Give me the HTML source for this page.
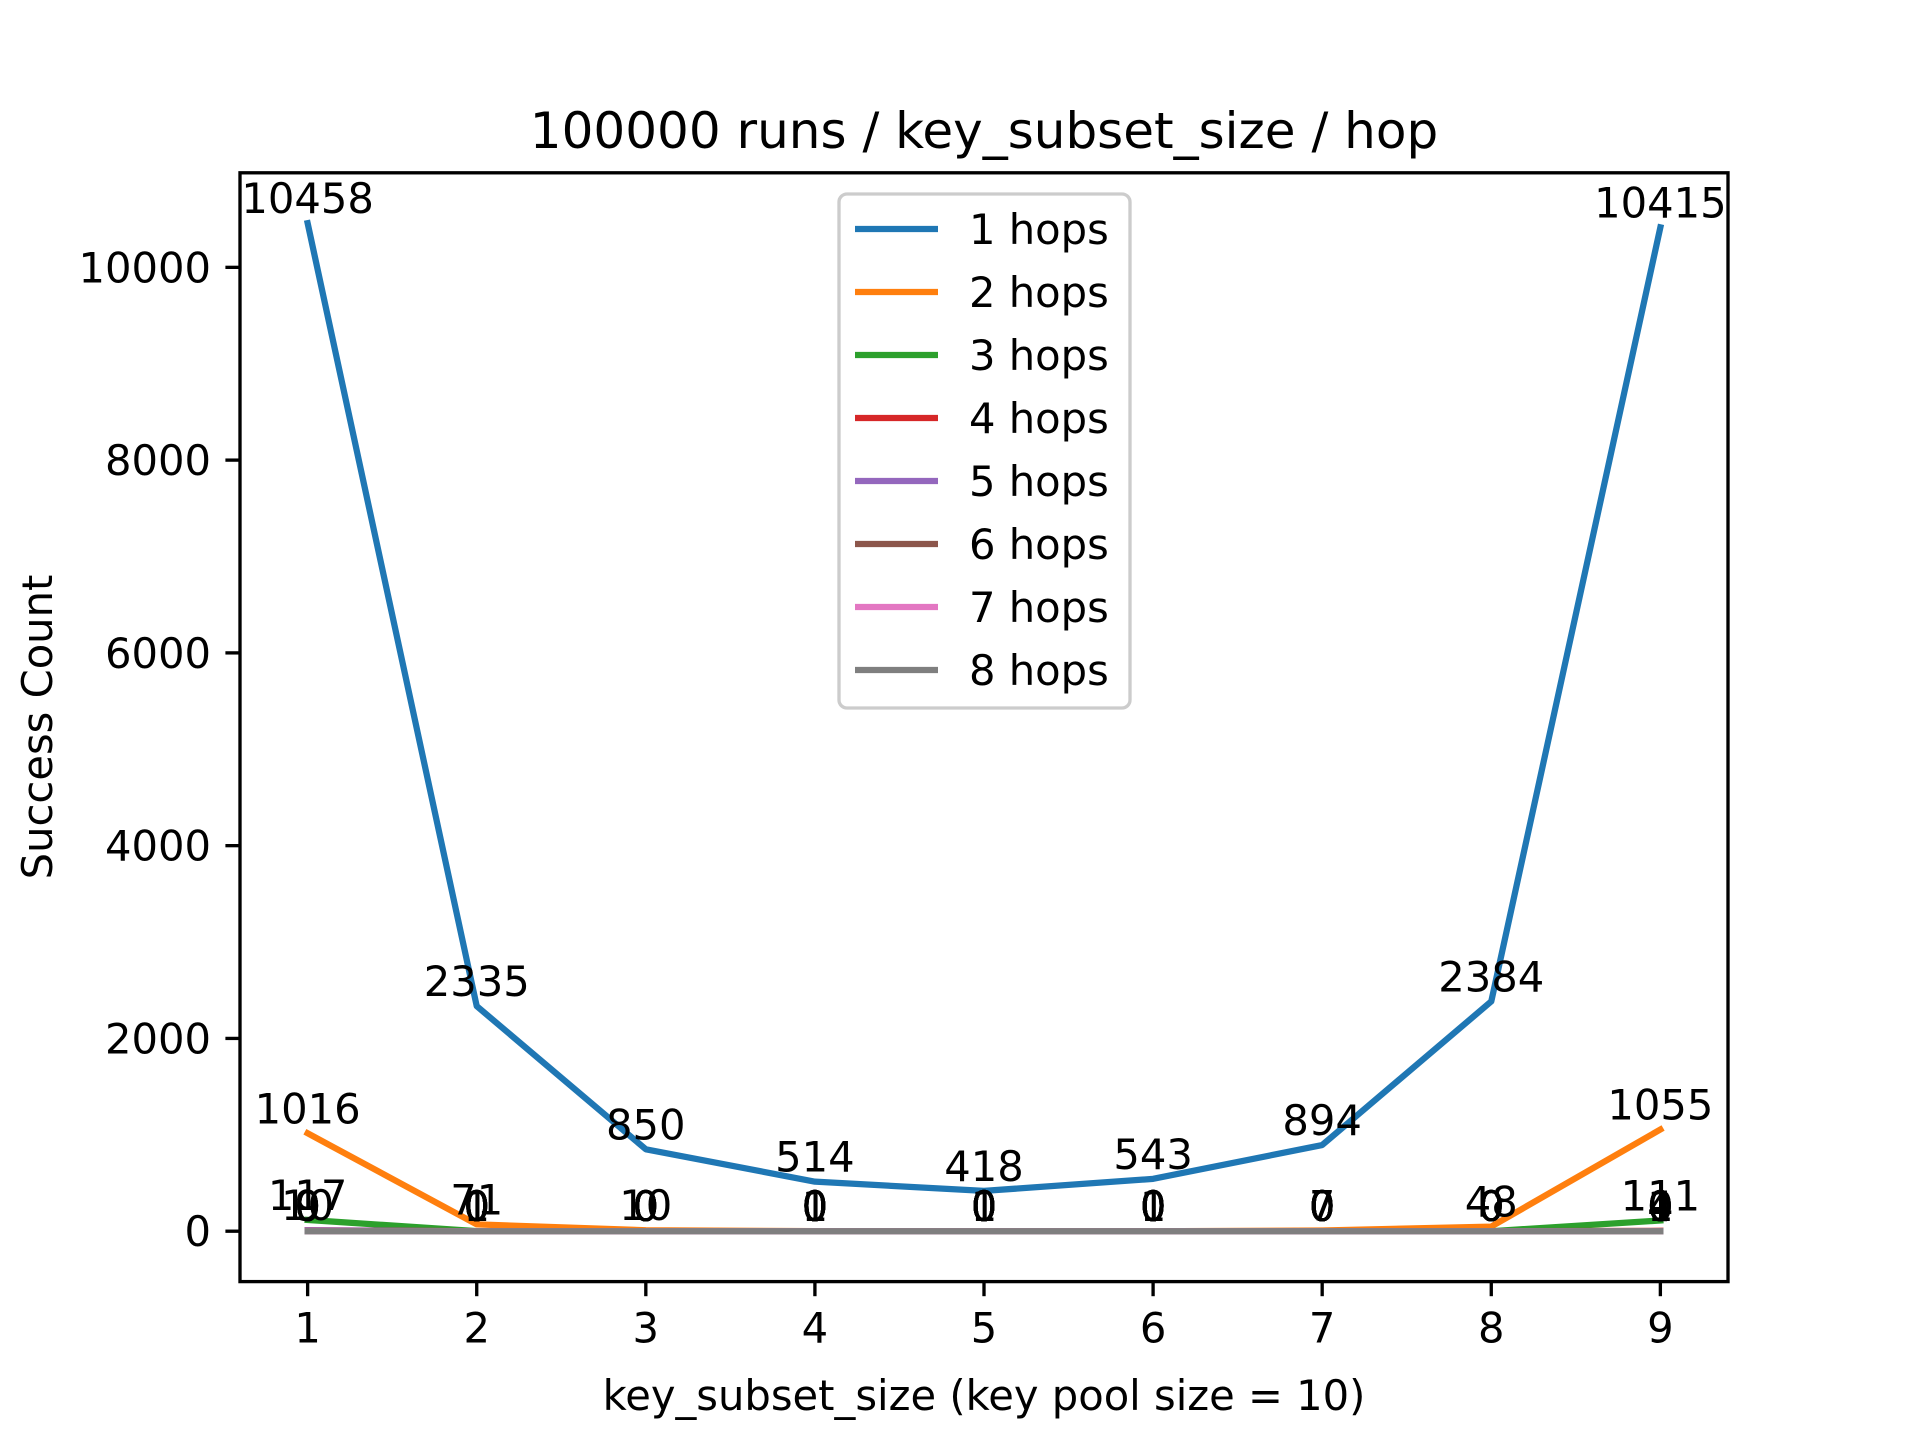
<!DOCTYPE html>
<html><head><meta charset="utf-8"><style>
html,body{margin:0;padding:0;background:#fff}
svg{display:block;font-family:"DejaVu Sans","Liberation Sans",sans-serif}
</style></head><body>
<svg id="chart" width="1920" height="1440" viewBox="0 0 1920 1440">
<rect width="1920" height="1440" fill="#fff"/>
<text x="984" y="148" font-size="50" text-anchor="middle">100000 runs / key_subset_size / hop</text>
<text x="984" y="1410" font-size="41.67" text-anchor="middle">key_subset_size (key pool size = 10)</text>
<text transform="translate(52,727) rotate(-90)" font-size="41.67" text-anchor="middle">Success Count</text>
<g id="plot"></g>
</svg>
<script>
const categories = [1,2,3,4,5,6,7,8,9];
const seriesNames = ["1 hops","2 hops","3 hops","4 hops","5 hops","6 hops","7 hops","8 hops"];
const hops1 = [10458,2335,850,514,418,543,894,2384,10415];
const hops2 = [1016,71,10,1,0,0,7,48,1055];
const hops3 = [117,1,0,0,1,1,0,0,111];
const hops4 = [10,0,0,0,0,0,0,0,4];
const hops5 = [9,0,0,0,0,0,0,0,1];
const hops6 = [0,0,0,0,0,0,0,0,0];
const hops7 = [0,0,0,0,0,0,0,0,0];
const hops8 = [0,0,0,0,0,0,0,0,0];
const yTicks = [0,2000,4000,6000,8000,10000];
const xTicks = [1,2,3,4,5,6,7,8,9];

const series=[hops1,hops2,hops3,hops4,hops5,hops6,hops7,hops8];
const colors=["#1f77b4","#ff7f0e","#2ca02c","#d62728","#9467bd","#8c564b","#e377c2","#7f7f7f"];
const L=240,R=1728,T=172.8,B=1281.6;
const all=series.flat();
const dmin=Math.min(...all),dmax=Math.max(...all);
const ymin=dmin-(dmax-dmin)*0.05,ymax=dmax+(dmax-dmin)*0.05;
const xmin=categories[0]-(categories[categories.length-1]-categories[0])*0.05;
const xmax=categories[categories.length-1]+(categories[categories.length-1]-categories[0])*0.05;
const xs=v=>L+(v-xmin)/(xmax-xmin)*(R-L);
const ys=v=>B-(v-ymin)/(ymax-ymin)*(B-T);
const NS="http://www.w3.org/2000/svg";
const g=document.getElementById('plot');
function mk(tag,attrs,parent){const e=document.createElementNS(NS,tag);for(const k in attrs)e.setAttribute(k,attrs[k]);(parent||g).appendChild(e);return e;}

series.forEach((s,i)=>{
  const p=mk('polyline',{points:s.map((v,j)=>xs(categories[j])+','+ys(v)).join(' '),fill:'none',stroke:colors[i],'stroke-width':6.25,'stroke-linejoin':'round','stroke-linecap':'square'});
  
  
});
series.forEach((s,i)=>{
  s.forEach((v,j)=>{
    const t=mk('text',{x:xs(categories[j]),y:ys(v)-10,'font-size':41.67,'text-anchor':'middle'});
    t.textContent=v;
    
    
  });
});
const frame=mk('rect',{x:L,y:T,width:R-L,height:B-T,fill:'none',stroke:'#000','stroke-width':3.33});


xTicks.forEach(v=>{
  const x=xs(v);
  const tk=mk('line',{x1:x,x2:x,y1:B,y2:B+14.6,stroke:'#000','stroke-width':3.33});
  
  
  const t=mk('text',{x:x,y:B+61,'font-size':41.67,'text-anchor':'middle'});
  t.textContent=v;
  
  
});
yTicks.forEach(v=>{
  const y=ys(v);
  const tk=mk('line',{x1:L-14.6,x2:L,y1:y,y2:y,stroke:'#000','stroke-width':3.33});
  
  
  const t=mk('text',{x:L-29,y:y+15,'font-size':41.67,'text-anchor':'end'});
  t.textContent=v;
  
  
});
// legend
const lg=mk('g',{});


const lx=839,ly=194,lw=291,lh=514;
mk('rect',{x:lx,y:ly,width:lw,height:lh,rx:8,fill:'#fff','fill-opacity':0.8,stroke:'#ccc','stroke-width':3.33},lg);
seriesNames.forEach((n,i)=>{
  const cy=ly+35+i*63;
  const e=mk('g',{},lg);
  
  
  mk('line',{x1:lx+16,x2:lx+99,y1:cy,y2:cy,stroke:colors[i],'stroke-width':6.25},e);
  const t=mk('text',{x:lx+130,y:cy+15,'font-size':41.67},e);
  t.textContent=n;
});
</script>
</body></html>
